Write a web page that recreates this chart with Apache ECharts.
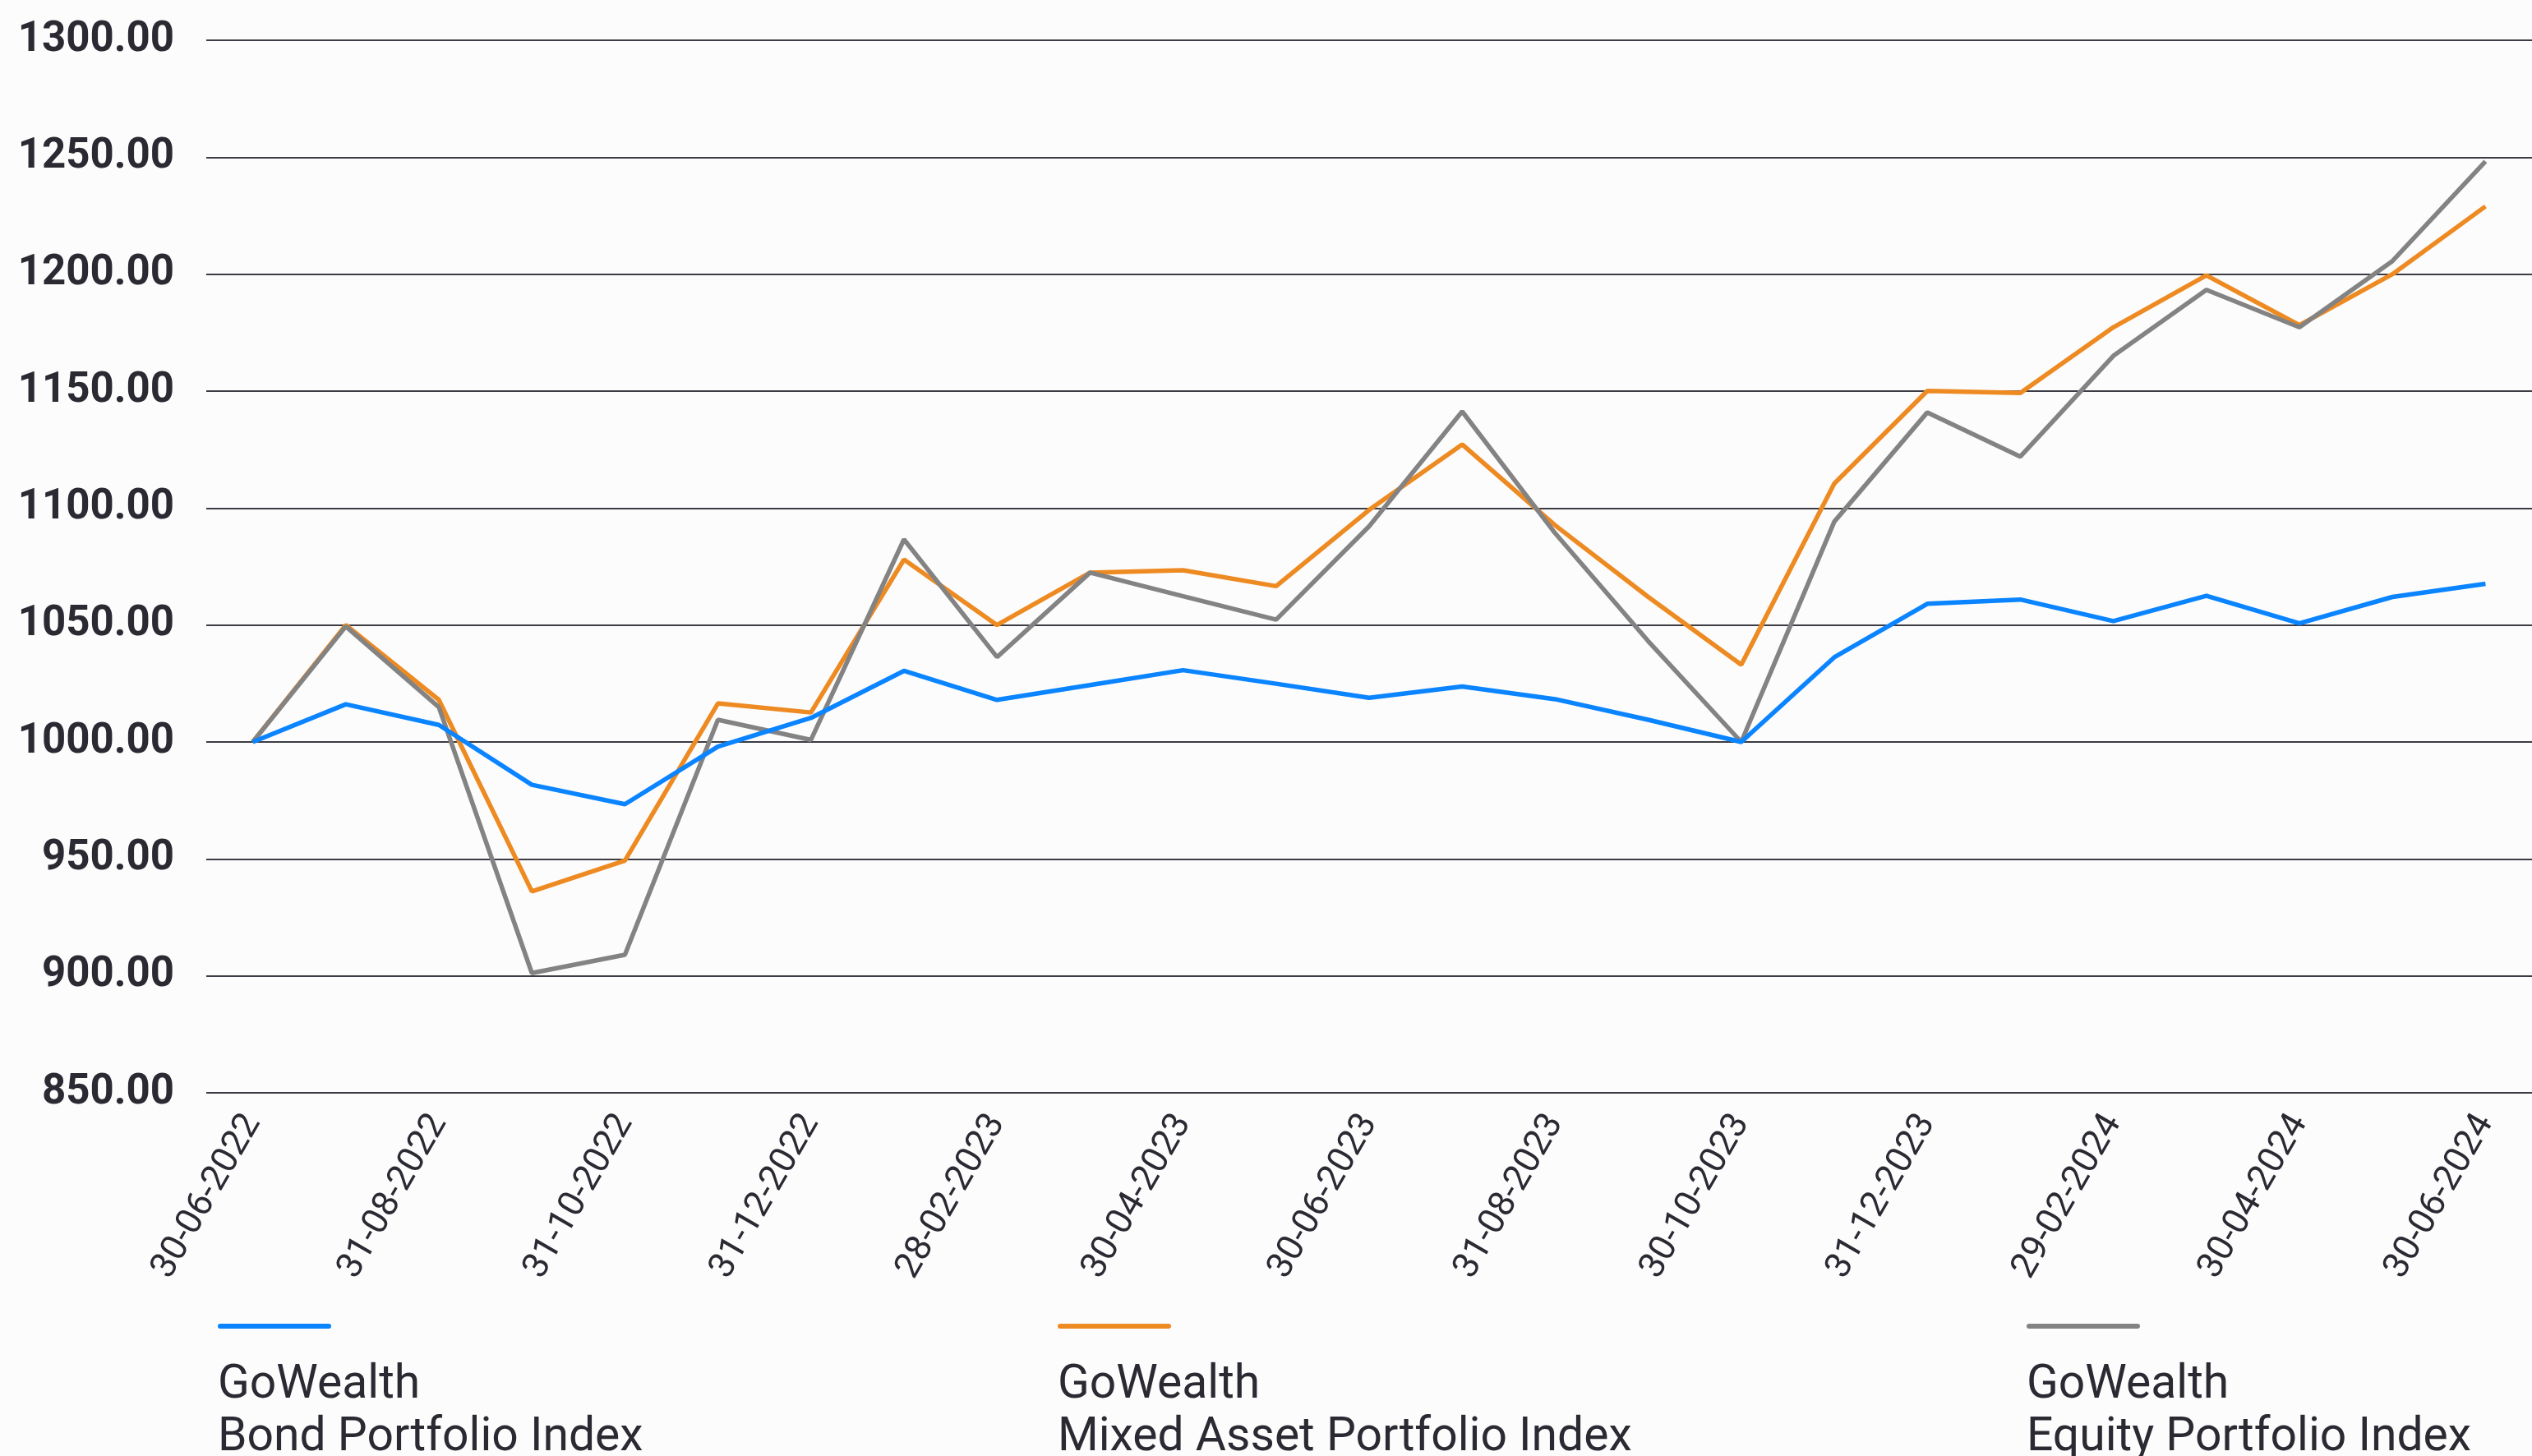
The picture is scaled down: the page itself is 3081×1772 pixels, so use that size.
<!DOCTYPE html>
<html>
<head>
<meta charset="utf-8">
<script src="https://cdn.jsdelivr.net/npm/echarts@6/dist/echarts.min.js"></script>
<style>
html,body{margin:0;padding:0;background:#fcfcfc;}
#chart{width:3081px;height:1772px;}
</style>
</head>
<body>
<div id="chart"></div>
<script>
const categories = [
  '30-06-2022','31-07-2022','31-08-2022','30-09-2022','31-10-2022','30-11-2022','31-12-2022',
  '31-01-2023','28-02-2023','31-03-2023','30-04-2023','31-05-2023','30-06-2023','31-07-2023',
  '31-08-2023','30-09-2023','30-10-2023','30-11-2023','31-12-2023','31-01-2024','29-02-2024',
  '31-03-2024','30-04-2024','31-05-2024','30-06-2024'
];
const bondValues = [1000, 1016.1, 1007.3, 981.7, 973.4, 998, 1010.3, 1030.4, 1018, 1024.3, 1030.7, 1024.9, 1018.9, 1023.7, 1018.3, 1009.5, 1000, 1036.2, 1059.1, 1060.9, 1051.7, 1062.5, 1050.7, 1062, 1067.6];
const mixedValues = [1000, 1050, 1018, 936.1, 949.3, 1016.5, 1012.6, 1078, 1050, 1072.4, 1073.4, 1066.6, 1099.2, 1127.2, 1092.6, 1062, 1033, 1110.5, 1150.1, 1149.2, 1177.3, 1199.5, 1178.2, 1200, 1229];
const equityValues = [1000, 1049.4, 1014.9, 901.2, 909, 1009.5, 1000.9, 1086.6, 1036.3, 1072.4, 1062.3, 1052.3, 1092.2, 1141.3, 1089.2, 1043.1, 1000, 1094.2, 1140.9, 1122, 1165.1, 1193.3, 1177.3, 1205.6, 1248.2];
const seriesNames = ['GoWealth Bond Portfolio Index', 'GoWealth Mixed Asset Portfolio Index', 'GoWealth Equity Portfolio Index'];
const legendLine1 = 'GoWealth';
const legendLine2 = ['Bond Portfolio Index', 'Mixed Asset Portfolio Index', 'Equity Portfolio Index'];
const colors = ['#0a84ff', '#ee8a22', '#838383'];
const yMin = 850, yMax = 1300, yStep = 50;

const FONT = 'Roboto, "Noto Sans", sans-serif';
const TEXT = '#2b2a33';

function makeLegend(i, left) {
  const rich = {
    t: { fontSize: 57, lineHeight: 64, color: TEXT, fontFamily: FONT },
    s: { fontSize: 1, lineHeight: 38 }
  };
  rich['l' + i] = { width: 138, height: 6, backgroundColor: colors[i], borderRadius: 3 };
  return {
    show: true,
    data: [seriesNames[i]],
    left: left,
    top: 1608,
    padding: 0,
    itemWidth: 0,
    itemHeight: 0,
    icon: 'rect',
    selectedMode: false,
    formatter: function () {
      return '{l' + i + '|}\n{s| }\n{t|' + legendLine1 + '}\n{t|' + legendLine2[i] + '}';
    },
    textStyle: { rich: rich, fontFamily: FONT, color: TEXT }
  };
}

const chart = echarts.init(document.getElementById('chart'), null, { renderer: 'canvas' });
chart.setOption({
  backgroundColor: '#fcfcfc',
  animation: false,
  grid: { left: 251, right: 0, top: 49, bottom: 442, containLabel: false },
  legend: [makeLegend(0, 260), makeLegend(1, 1282), makeLegend(2, 2461)],
  xAxis: {
    type: 'category',
    data: categories,
    boundaryGap: true,
    axisLine: { show: false },
    axisTick: { show: false },
    axisLabel: {
      interval: 1,
      rotate: 60,
      margin: 30,
      fontSize: 44,
      color: TEXT,
      fontFamily: FONT
    },
    splitLine: { show: false }
  },
  yAxis: {
    type: 'value',
    min: yMin,
    max: yMax,
    interval: yStep,
    axisLine: { show: false },
    axisTick: { show: false },
    axisLabel: {
      margin: 39,
      fontSize: 51,
      fontWeight: 'bold',
      color: TEXT,
      fontFamily: FONT,
      formatter: function (v) { return v.toFixed(2); }
    },
    splitLine: { show: true, lineStyle: { color: '#3c3c44', width: 2 } }
  },
  series: [
    { name: seriesNames[1], type: 'line', data: mixedValues, showSymbol: false, symbol: 'none',
      lineStyle: { color: colors[1], width: 5.5 }, itemStyle: { color: colors[1] }, z: 2 },
    { name: seriesNames[2], type: 'line', data: equityValues, showSymbol: false, symbol: 'none',
      lineStyle: { color: colors[2], width: 5.5 }, itemStyle: { color: colors[2] }, z: 3 },
    { name: seriesNames[0], type: 'line', data: bondValues, showSymbol: false, symbol: 'none',
      lineStyle: { color: colors[0], width: 5.5 }, itemStyle: { color: colors[0] }, z: 4 }
  ]
});
</script>
</body>
</html>
